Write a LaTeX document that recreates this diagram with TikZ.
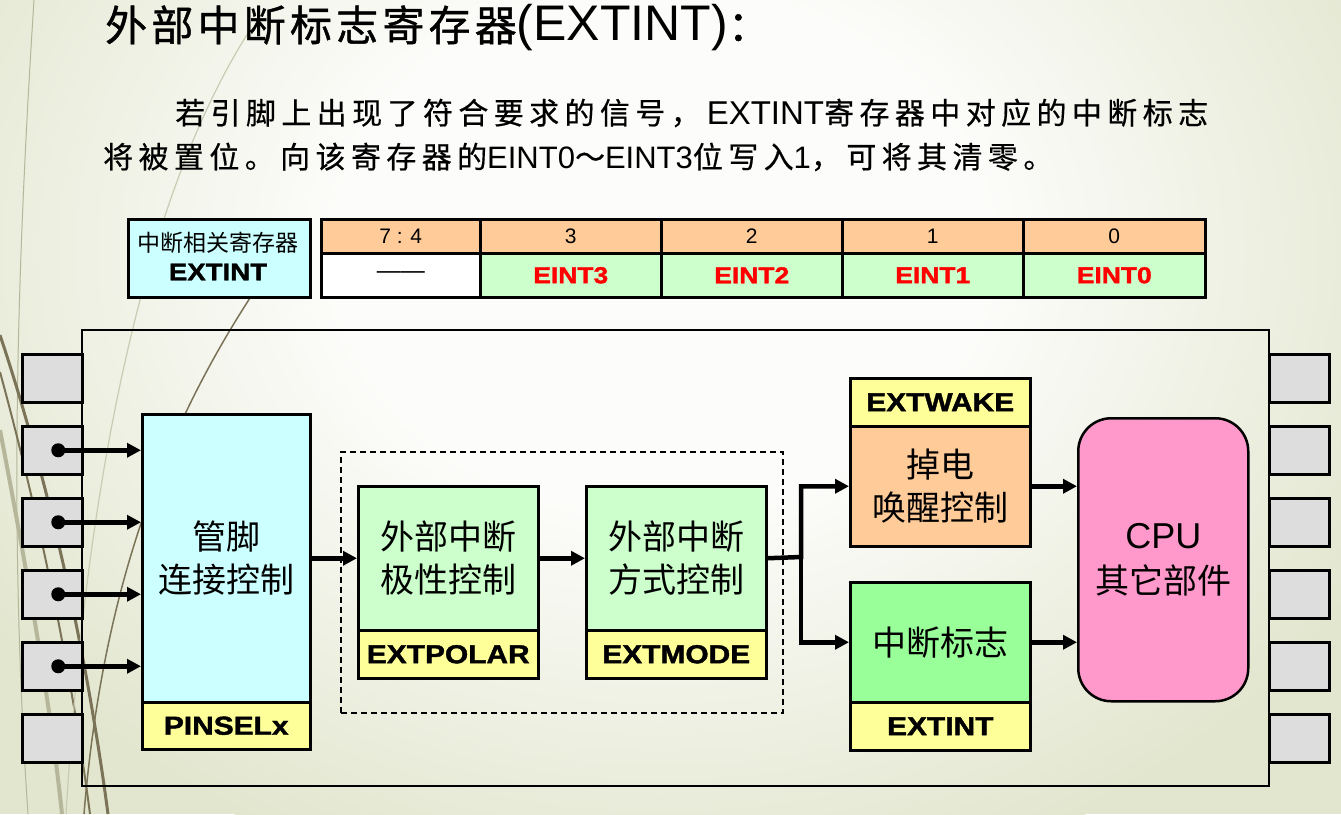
\documentclass[tikz,border=0pt]{standalone}
\usepackage{fontspec}
\setmainfont{Liberation Sans}
\newfontfamily\cjk{Noto Sans CJK SC}
\newfontfamily\cjkt[LetterSpace=10,FakeBold=1]{Noto Sans CJK SC}
\newfontfamily\cjkb[LetterSpace=18,FakeBold=0.5]{Noto Sans CJK SC}
\newfontfamily\heavy[UprightFont={* Bold},FakeBold=1.5,FakeStretch=1.15]{Liberation Sans}
\usetikzlibrary{arrows.meta}
\definecolor{cyanL}{HTML}{CCFFFF}
\definecolor{yel}{HTML}{FFFF99}
\definecolor{greenL}{HTML}{CCFFCC}
\definecolor{greenM}{HTML}{99FF99}
\definecolor{orangeL}{HTML}{FFCC99}
\definecolor{pinkC}{HTML}{FF99CC}
\definecolor{pingray}{HTML}{DDDDDD}
\definecolor{bgL}{HTML}{E2E6CE}
\definecolor{bgM}{HTML}{FCFCFA}
\definecolor{decoA}{HTML}{7B7358}
\definecolor{decoB}{HTML}{B5B69A}
\definecolor{decoC}{HTML}{C9CBB3}
\pgfdeclareradialshading{bgshade}{\pgfpoint{0bp}{0bp}}{color(0bp)=(bgM); color(10bp)=(bgM); color(25bp)=(bgL); color(50bp)=(bgL)}
\begin{document}
\begin{tikzpicture}[x=1pt,y=-1pt,
  bx/.style={draw=black, line width=2.5pt, inner sep=0pt, anchor=north west},
  cell/.style={draw=black, line width=2.5pt, inner sep=0pt, anchor=north west, font=\fontsize{21}{22}\selectfont},
  lab/.style={font=\heavy\fontsize{26}{28}\selectfont},
  tlab/.style={font=\heavy\fontsize{23}{24}\selectfont, text=red},
  cjkbox/.style={font=\cjk\fontsize{34}{43}\selectfont, align=center},
  pinbox/.style={draw=black, line width=2.5pt, fill=pingray, minimum width=60, minimum height=48, anchor=north west, inner sep=0pt},
  ar/.style={line width=4.5pt, -{Triangle[length=14pt,width=14pt]}},
]
\useasboundingbox (0,0) rectangle (1341,814);
\begin{scope}
\clip (0,0) rectangle (1341,814);
\fill[bgL] (0,0) rectangle (1341,814);
\shade[shading=bgshade] (660,250) ellipse (820 and 660);
\end{scope}
% decorative curves
\draw[decoB, line width=1pt] (34,0) .. controls (18,250) and (8,520) .. (28,814);
\draw[decoA, line width=3pt] (0,335) .. controls (45,470) and (85,640) .. (108,814);
\draw[decoA, line width=2pt] (0,372) .. controls (35,500) and (70,660) .. (90,814);
\draw[decoB, line width=4pt] (0,430) .. controls (25,560) and (50,700) .. (62,814);
\draw[decoA, line width=1.5pt] (290,240) .. controls (180,390) and (105,560) .. (84,814);
\draw[decoC, line width=1.2pt] (250,30) .. controls (160,170) and (90,420) .. (66,814);

% title and text
\node[anchor=west, inner sep=0pt] (title) at (105,28) {{\cjkt\fontsize{42}{42}\selectfont 外部中断标志寄存器}{\fontsize{50}{50}\selectfont (EXTINT)}{\cjkt\fontsize{42}{42}\selectfont ：}};
\node[anchor=west, inner sep=0pt] (line1) at (175,113) {{\cjkb\fontsize{30}{30}\selectfont 若引脚上出现了符合要求的信号，}\hspace{6pt}{\fontsize{33}{33}\selectfont EXTINT}{\cjkb\fontsize{30}{30}\selectfont 寄存器中对应的中断标志}};
\node[anchor=west, inner sep=0pt] (line2) at (103,157) {{\cjkb\fontsize{30}{30}\selectfont 将被置位。向该寄存器的}{\fontsize{31}{31}\selectfont EINT0}{\cjkb\fontsize{30}{30}\selectfont ～}{\fontsize{31}{31}\selectfont EINT3}{\cjkb\fontsize{30}{30}\selectfont 位写入}{\fontsize{31}{31}\selectfont 1}{\cjkb\fontsize{30}{30}\selectfont ，可将其清零。}};

% register box
\node[bx, fill=cyanL, minimum width=182, minimum height=78] (reg) at (127,218) {};
\node[font=\cjk\fontsize{23}{24}\selectfont] (regname) at (218,243) {中断相关寄存器};
\node[font=\heavy\fontsize{24}{25}\selectfont] (regext) at (218,272) {EXTINT};

% bit table
\node[cell, fill=orangeL, minimum width=159, minimum height=34] (h74) at (320,218) {7 : 4};
\node[cell, fill=orangeL, minimum width=181, minimum height=34] (h3) at (479,218) {3};
\node[cell, fill=orangeL, minimum width=181, minimum height=34] (h2) at (660,218) {2};
\node[cell, fill=orangeL, minimum width=181, minimum height=34] (h1) at (841,218) {1};
\node[cell, fill=orangeL, minimum width=182, minimum height=34] (h0) at (1022,218) {0};
\node[cell, fill=white, minimum width=159, minimum height=44, font=\fontsize{24}{24}\selectfont] (v74) at (320,252) {——};
\node[cell, fill=greenL, minimum width=181, minimum height=44, tlab] (v3) at (479,252) {EINT3};
\node[cell, fill=greenL, minimum width=181, minimum height=44, tlab] (v2) at (660,252) {EINT2};
\node[cell, fill=greenL, minimum width=181, minimum height=44, tlab] (v1) at (841,252) {EINT1};
\node[cell, fill=greenL, minimum width=182, minimum height=44, tlab] (v0) at (1022,252) {EINT0};

% pins and chip
\foreach \i in {1,...,6} {
  \node[pinbox] (L\i) at (21,{353+72*(\i-1)}) {};
  \node[pinbox] (R\i) at (1268,{353+72*(\i-1)}) {};
}
\node[draw=black, line width=2pt, minimum width=1187, minimum height=456, anchor=north west, inner sep=0pt] (chip) at (81,329) {};

% pin connect control
\node[bx, fill=cyanL, minimum width=168, minimum height=288, cjkbox] (pinctl) at (141,413) {管脚\\连接控制};
\node[bx, fill=yel, minimum width=168, minimum height=47, lab] (pinsel) at (141,701) {PINSELx};

\foreach \i in {2,3,4,5} {
  \fill ([xshift=6pt]L\i.center) circle (7pt);
  \draw[ar] ([xshift=6pt]L\i.center) -- (L\i.center -| pinctl.west);
}

% dashed group
\node[draw=black, line width=1.5pt, dash pattern=on 6pt off 4pt, minimum width=442, minimum height=261, anchor=north west, inner sep=0pt] (grp) at (340,451) {};

\node[bx, fill=greenL, minimum width=180, minimum height=144, cjkbox] (polar) at (357,485) {外部中断\\极性控制};
\node[bx, fill=yel, minimum width=180, minimum height=48, lab] (polarlab) at (357,629) {EXTPOLAR};
\node[bx, fill=greenL, minimum width=180, minimum height=144, cjkbox] (mode) at (585,485) {外部中断\\方式控制};
\node[bx, fill=yel, minimum width=180, minimum height=48, lab] (modelab) at (585,629) {EXTMODE};

% wake and flag
\node[bx, fill=yel, minimum width=180, minimum height=48, lab] (wakelab) at (849,377) {EXTWAKE};
\node[bx, fill=orangeL, minimum width=180, minimum height=120, cjkbox] (wake) at (849,425) {掉电\\唤醒控制};
\node[bx, fill=greenM, minimum width=180, minimum height=120, cjkbox] (flag) at (849,581) {中断标志};
\node[bx, fill=yel, minimum width=180, minimum height=48, lab] (flaglab) at (849,701) {EXTINT};

% CPU
\node[bx, fill=pinkC, rounded corners=33pt, minimum width=170, minimum height=283, align=center, font=\fontsize{36}{45}\selectfont] (cpu) at (1077,417) {CPU\\{\cjk\fontsize{34}{45}\selectfont 其它部件}};

% connectors
\draw[ar] (pinctl.east) -- (polar.west);
\draw[ar] (polar.east) -- (mode.west);
\coordinate (br) at (801,557);
\draw[ar, line join=miter] (mode.east) -- (br) |- (wake.west);
\draw[ar, line join=miter] (br) |- (flag.west);
\draw[ar] (wake.east) -- (wake.east -| cpu.west);
\draw[ar] (flag.east) -- (flag.east -| cpu.west);
\end{tikzpicture}
\end{document}
